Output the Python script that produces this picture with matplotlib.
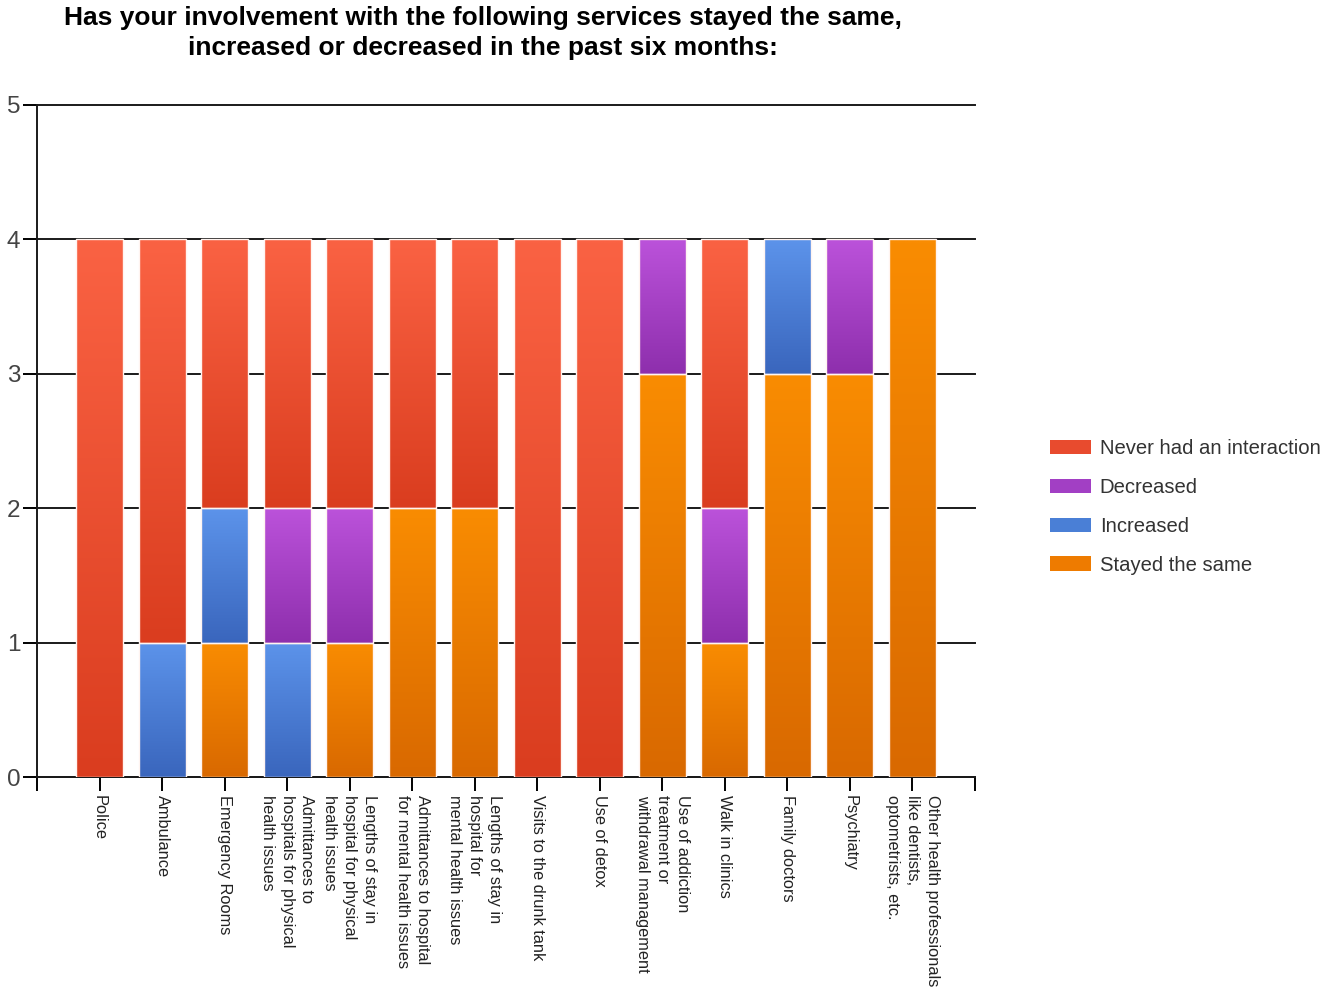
import numpy as np
import matplotlib
matplotlib.use("Agg")
import matplotlib.pyplot as plt
from matplotlib.patches import Patch
from matplotlib.colors import to_rgb

plt.rcParams['font.family'] = ['Liberation Sans', 'DejaVu Sans']

services = [
    "Police",
    "Ambulance",
    "Emergency Rooms",
    "Admittances to\nhospitals for physical\nhealth issues",
    "Lengths of stay in\nhospital for physical\nhealth issues",
    "Admittances to hospital\nfor mental health issues",
    "Lengths of stay in\nhospital for\nmental health issues",
    "Visits to the drunk tank",
    "Use of detox",
    "Use of addiction\ntreatment or\nwithdrawal management",
    "Walk in clinics",
    "Family doctors",
    "Psychiatry",
    "Other health professionals\nlike dentists,\noptometrists, etc.",
]

# stacked bottom to top
stayed    = [0, 0, 1, 0, 1, 2, 2, 0, 0, 3, 1, 3, 3, 4]
increased = [0, 1, 1, 1, 0, 0, 0, 0, 0, 0, 0, 1, 0, 0]
decreased = [0, 0, 0, 1, 1, 0, 0, 0, 0, 1, 1, 0, 1, 0]
never     = [4, 3, 2, 2, 2, 2, 2, 4, 4, 0, 2, 0, 0, 0]

series = [
    ("Stayed the same", stayed, "#f98c02", "#d96900", "#ee7b00"),
    ("Increased", increased, "#5c93ea", "#3a66bd", "#4a7fd6"),
    ("Decreased", decreased, "#bb52da", "#8e2fad", "#a23fc4"),
    ("Never had an interaction", never, "#fa6243", "#da3d1f", "#e84b2e"),
]

fig = plt.figure(figsize=(13.21, 9.88), dpi=100)
ax = fig.add_axes([37 / 1321, 1 - 777 / 988, (975 - 37) / 1321, (777 - 105) / 988])

x = np.arange(1, len(services) + 1)
width = 0.75
bottom = np.zeros(len(services))

for name, vals, top_c, bot_c, _ in series:
    vals = np.array(vals, dtype=float)
    grad = np.linspace(0, 1, 64)[:, None]
    c0, c1 = np.array(to_rgb(bot_c)), np.array(to_rgb(top_c))
    img = (c1 * (1 - grad) + c0 * grad)[:, None, :]  # row 0 = top
    for xi, b, v in zip(x, bottom, vals):
        if v <= 0:
            continue
        ax.imshow(img, extent=(xi - width / 2, xi + width / 2, b, b + v),
                  aspect='auto', interpolation='bilinear', zorder=3)
        ax.add_patch(plt.Rectangle((xi - width / 2, b), width, v, fill=False,
                                   edgecolor='#fff4f0', linewidth=1.0, zorder=4))
    bottom += vals

ax.set_xlim(0, 15)
ax.set_ylim(0, 5)

ax.set_yticks(range(6))
ax.yaxis.grid(True, color='#1a1a1a', linewidth=1.4, zorder=1)
for gl in ax.get_ygridlines():
    gl.set_clip_on(False)
ax.set_axisbelow(True)
ax.tick_params(axis='y', length=10, width=1.4, labelsize=17.5, labelcolor='#444444', pad=2)

ax.set_xticks(range(16))
ax.set_xticklabels([""] + services + [""], rotation=270, fontsize=11.8,
                   color='#222222', ha='left', va='center',
                   rotation_mode='anchor', multialignment='left', linespacing=1.4)
ax.tick_params(axis='x', length=10, width=1.4, pad=3)

for s in ('top', 'right'):
    ax.spines[s].set_visible(False)
for s in ('left', 'bottom'):
    ax.spines[s].set_linewidth(1.4)
    ax.spines[s].set_color('#1a1a1a')

fig.text(483 / 1321, 1 - 33 / 988,
         "Has your involvement with the following services stayed the same,\n"
         "increased or decreased in the past six months:",
         ha='center', va='center', fontsize=19, fontweight='bold', linespacing=1.35)

handles = [Patch(facecolor=c, edgecolor='none', label=n)
           for n, _, _, _, c in series[::-1]]
fig.legend(handles=handles, loc='center left',
           bbox_to_anchor=(1050 / 1321, 1 - 507 / 988), frameon=False,
           fontsize=14.6, handlelength=2.0, handleheight=0.72,
           handletextpad=0.45, labelspacing=0.98, labelcolor='#333333',
           borderaxespad=0, borderpad=0)

fig.savefig("out.png", dpi=100)
